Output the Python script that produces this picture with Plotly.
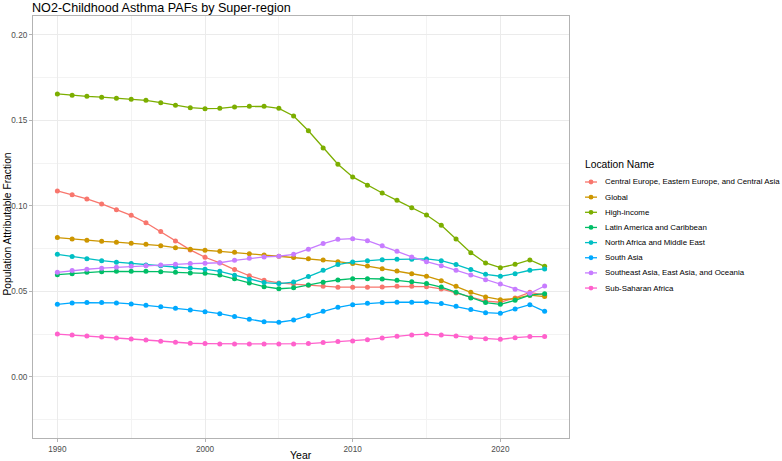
import plotly.graph_objects as go

years = list(range(1990, 2024))

locations = [
    "Central Europe, Eastern Europe, and Central Asia",
    "Global",
    "High-income",
    "Latin America and Caribbean",
    "North Africa and Middle East",
    "South Asia",
    "Southeast Asia, East Asia, and Oceania",
    "Sub-Saharan Africa",
]

colors = ["#F8766D", "#CD9600", "#7CAE00", "#00BE67", "#00BFC4", "#00A9FF", "#C77CFF", "#FF61CC"]

central_europe = [0.1088, 0.1066, 0.1041, 0.1012, 0.0978, 0.0945, 0.0902, 0.0850, 0.0795, 0.0743,
                  0.0700, 0.0667, 0.0628, 0.0592, 0.0565, 0.0550, 0.0543, 0.0536, 0.0530, 0.0525,
                  0.0525, 0.0525, 0.0526, 0.0530, 0.0530, 0.0528, 0.0515, 0.0491, 0.0464, 0.0444,
                  0.0437, 0.0462, 0.0495, 0.0478]
global_ = [0.0815, 0.0807, 0.0799, 0.0793, 0.0788, 0.0782, 0.0776, 0.0768, 0.0756, 0.0747,
           0.0741, 0.0735, 0.0729, 0.0721, 0.0713, 0.0706, 0.0699, 0.0692, 0.0684, 0.0674,
           0.0663, 0.0649, 0.0633, 0.0620, 0.0604, 0.0589, 0.0563, 0.0530, 0.0495, 0.0468,
           0.0452, 0.0458, 0.0478, 0.0470]
high_income = [0.1655, 0.1647, 0.1641, 0.1636, 0.1630, 0.1624, 0.1618, 0.1604, 0.1589, 0.1575,
               0.1569, 0.1571, 0.1579, 0.1583, 0.1583, 0.1571, 0.1526, 0.1440, 0.1339, 0.1244,
               0.1170, 0.1121, 0.1076, 0.1033, 0.0990, 0.0947, 0.0887, 0.0807, 0.0727, 0.0667,
               0.0639, 0.0659, 0.0684, 0.0647]
latin_america = [0.0598, 0.0604, 0.0612, 0.0616, 0.0618, 0.0618, 0.0618, 0.0616, 0.0612, 0.0608,
                 0.0606, 0.0596, 0.0575, 0.0550, 0.0528, 0.0516, 0.0521, 0.0538, 0.0554, 0.0567,
                 0.0575, 0.0575, 0.0573, 0.0565, 0.0557, 0.0546, 0.0526, 0.0495, 0.0462, 0.0435,
                 0.0425, 0.0448, 0.0478, 0.0487]
north_africa = [0.0717, 0.0704, 0.0692, 0.0680, 0.0671, 0.0663, 0.0655, 0.0651, 0.0643, 0.0637,
                0.0630, 0.0618, 0.0595, 0.0571, 0.0552, 0.0546, 0.0555, 0.0587, 0.0624, 0.0657,
                0.0673, 0.0680, 0.0686, 0.0688, 0.0688, 0.0690, 0.0680, 0.0657, 0.0628, 0.0600,
                0.0589, 0.0604, 0.0624, 0.0632]
south_asia = [0.0425, 0.0433, 0.0435, 0.0435, 0.0433, 0.0427, 0.0419, 0.0411, 0.0402, 0.0392,
              0.0382, 0.0370, 0.0353, 0.0337, 0.0323, 0.0320, 0.0333, 0.0358, 0.0384, 0.0407,
              0.0423, 0.0431, 0.0435, 0.0437, 0.0437, 0.0437, 0.0429, 0.0413, 0.0394, 0.0376,
              0.0372, 0.0398, 0.0423, 0.0384]
southeast_asia = [0.0612, 0.0622, 0.0630, 0.0636, 0.0641, 0.0647, 0.0651, 0.0655, 0.0659, 0.0663,
                  0.0665, 0.0668, 0.0682, 0.0694, 0.0702, 0.0706, 0.0717, 0.0747, 0.0780, 0.0805,
                  0.0809, 0.0797, 0.0768, 0.0735, 0.0702, 0.0674, 0.0651, 0.0624, 0.0596, 0.0569,
                  0.0544, 0.0513, 0.0489, 0.0532]
sub_saharan = [0.0251, 0.0246, 0.0240, 0.0234, 0.0228, 0.0222, 0.0216, 0.0209, 0.0203, 0.0197,
               0.0195, 0.0193, 0.0193, 0.0193, 0.0193, 0.0193, 0.0193, 0.0195, 0.0201, 0.0207,
               0.0211, 0.0218, 0.0228, 0.0238, 0.0246, 0.0250, 0.0246, 0.0240, 0.0230, 0.0224,
               0.0220, 0.0230, 0.0236, 0.0236]

series = [central_europe, global_, high_income, latin_america,
          north_africa, south_asia, southeast_asia, sub_saharan]

x_ticks = [1990, 2000, 2010, 2020]
y_ticks = [0.00, 0.05, 0.10, 0.15, 0.20]
y_tick_labels = ["0.00", "0.05", "0.10", "0.15", "0.20"]

FONT = "Liberation Sans, Arial, sans-serif"

# figure geometry (pixels)
W, H = 782, 461
ML, MR, MT, MB = 33, 213, 16, 23
PW, PH = W - ML - MR, H - MT - MB

fig = go.Figure()
for name, vals, col in zip(locations, series, colors):
    fig.add_trace(go.Scatter(
        x=years, y=vals, name=name, mode="lines+markers",
        line=dict(color=col, width=1.3),
        marker=dict(color=col, size=5),
        showlegend=False,
    ))

def px_x(px):
    return (px - ML) / PW

def px_y(py):
    return (H - MB - py) / PH

annotations = [
    dict(text="Year", xref="paper", yref="paper", x=px_x(ML + PW / 2), y=px_y(455),
         xanchor="center", yanchor="middle", showarrow=False,
         font=dict(family=FONT, size=10.5, color="#000000")),
    dict(text="Population Attributable Fraction", xref="paper", yref="paper",
         x=px_x(6.5), y=px_y(MT + PH / 2 - 3), xanchor="center", yanchor="middle",
         textangle=-90, showarrow=False,
         font=dict(family=FONT, size=10.3, color="#000000")),
    dict(text="Location Name", xref="paper", yref="paper",
         x=px_x(583), y=px_y(164.5), xanchor="left", yanchor="middle",
         showarrow=False, font=dict(family=FONT, size=10.3, color="#000000")),
]
shapes = []
leg_y0, leg_dy = 182.0, 15.15
for i, (name, col) in enumerate(zip(locations, colors)):
    cy = leg_y0 + i * leg_dy
    shapes.append(dict(type="line", xref="paper", yref="paper",
                       x0=px_x(585), x1=px_x(597), y0=px_y(cy), y1=px_y(cy),
                       line=dict(color=col, width=1.3)))
    shapes.append(dict(type="circle", xref="paper", yref="paper",
                       xsizemode="pixel", ysizemode="pixel",
                       xanchor=px_x(591), yanchor=px_y(cy),
                       x0=-2.4, x1=2.4, y0=-2.4, y1=2.4,
                       fillcolor=col, line=dict(width=0)))
    annotations.append(dict(
        text=name, xref="paper", yref="paper",
        x=px_x(602.5), y=px_y(cy), xanchor="left", yanchor="middle",
        showarrow=False, font=dict(family=FONT, size=7.9, color="#000000"),
    ))

fig.update_layout(
    width=W, height=H,
    margin=dict(l=ML, r=MR, t=MT, b=MB, pad=0, autoexpand=False),
    paper_bgcolor="white", plot_bgcolor="white",
    font=dict(family=FONT, color="#000000"),
    title=dict(text="NO2-Childhood Asthma PAFs by Super-region",
               x=32 / W, xanchor="left", xref="container",
               y=1 - 8 / H, yanchor="middle", yref="container",
               font=dict(family=FONT, size=12.6, color="#000000")),
    annotations=annotations,
    shapes=shapes,
    showlegend=False,
)

fig.update_xaxes(
    range=[1988.35, 2024.65], automargin=False,
    tickvals=x_ticks, ticktext=[str(v) for v in x_ticks],
    ticks="outside", ticklen=3, tickcolor="#B3B3B3", tickwidth=1,
    tickfont=dict(family=FONT, size=8.2, color="#4D4D4D"),
    showgrid=True, gridcolor="#EBEBEB", gridwidth=1,
    minor=dict(tickvals=[1995, 2005, 2015], showgrid=True, gridcolor="#F3F3F3", gridwidth=0.6, ticks=""),
    showline=True, linecolor="#B3B3B3", linewidth=1.2, mirror=True,
    zeroline=False,
)
fig.update_yaxes(
    range=[-0.0357, 0.2111], automargin=False,
    tickvals=y_ticks, ticktext=y_tick_labels,
    ticks="outside", ticklen=3, tickcolor="#B3B3B3", tickwidth=1,
    tickfont=dict(family=FONT, size=8.2, color="#4D4D4D"),
    showgrid=True, gridcolor="#EBEBEB", gridwidth=1,
    minor=dict(tickvals=[-0.025, 0.025, 0.075, 0.125, 0.175], showgrid=True, gridcolor="#F3F3F3", gridwidth=0.6, ticks=""),
    showline=True, linecolor="#B3B3B3", linewidth=1.2, mirror=True,
    zeroline=False,
)

fig.write_html("out.html")
